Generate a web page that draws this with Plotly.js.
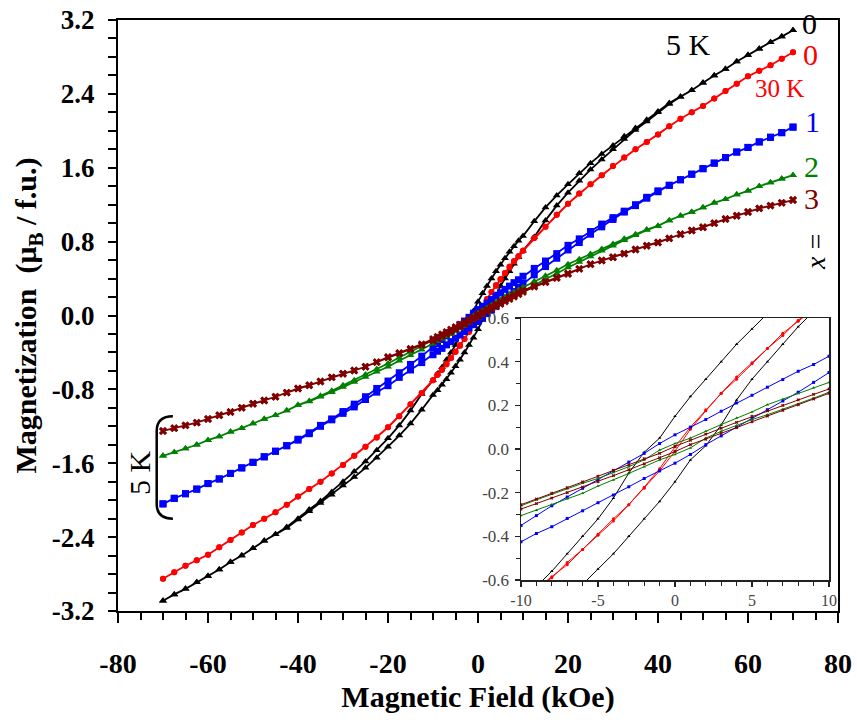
<!DOCTYPE html>
<html>
<head>
<meta charset="utf-8">
<script src="https://cdn.plot.ly/plotly-3.0.1.min.js"></script>
<style>html,body{margin:0;padding:0;background:#fff;}#chart{width:857px;height:722px;}</style>
</head>
<body>
<div id="chart"></div>
<script>
// Magnetic field grid (kOe): descending branch 70 -> -70
const H_DESC = [70,67.5,65,62.5,60,57.5,55,52.5,50,47.5,45,42.5,40,37.5,35,32.5,30,27.5,25,22.5,20,17.5,15,12.5,
  10,9,8,7,6,5,4,3,2,1,0,-1,-2,-3,-4,-5,-6,-7,-8,-9,-10,
  -12.5,-15,-17.5,-20,-22.5,-25,-27.5,-30,-32.5,-35,-37.5,-40,-42.5,-45,-47.5,-50,-52.5,-55,-57.5,-60,-62.5,-65,-67.5,-70];
// ascending branch -70 -> 70
const H_ASC = [-70,-67.5,-65,-62.5,-60,-57.5,-55,-52.5,-50,-47.5,-45,-42.5,-40,-37.5,-35,-32.5,-30,-27.5,-25,-22.5,-20,-17.5,-15,-12.5,
  -10,-9,-8,-7,-6,-5,-4,-3,-2,-1,0,1,2,3,4,5,6,7,8,9,10,
  12.5,15,17.5,20,22.5,25,27.5,30,32.5,35,37.5,40,42.5,45,47.5,50,52.5,55,57.5,60,62.5,65,67.5,70];

// x = 0, 5 K
const M0_5K_DESC = [3.09,3.02,2.96,2.89,2.82,2.75,2.67,2.60,2.52,2.44,2.37,2.30,2.21,2.12,2.03,1.94,1.84,1.75,1.65,1.54,1.42,1.30,1.17,1.02,
  0.86,0.81,0.75,0.69,0.62,0.55,0.48,0.40,0.32,0.24,0.15,0.05,-0.015,-0.11,-0.225,-0.32,-0.40,-0.48,-0.56,-0.63,-0.70,
  -0.85,-1.03,-1.19,-1.33,-1.46,-1.58,-1.69,-1.80,-1.91,-2.01,-2.10,-2.20,-2.29,-2.37,-2.44,-2.52,-2.60,-2.67,-2.75,-2.82,-2.89,-2.96,-3.02,-3.09];
const M0_5K_ASC = [-3.09,-3.02,-2.96,-2.89,-2.82,-2.75,-2.67,-2.60,-2.52,-2.44,-2.37,-2.30,-2.21,-2.12,-2.03,-1.94,-1.84,-1.75,-1.65,-1.54,-1.42,-1.30,-1.17,-1.02,
  -0.86,-0.81,-0.75,-0.69,-0.62,-0.55,-0.48,-0.40,-0.32,-0.24,-0.15,-0.05,0.015,0.11,0.225,0.32,0.40,0.48,0.56,0.63,0.70,
  0.85,1.03,1.19,1.33,1.46,1.58,1.69,1.80,1.91,2.01,2.10,2.20,2.29,2.37,2.44,2.52,2.60,2.67,2.75,2.82,2.89,2.96,3.02,3.09];

// x = 0, 30 K
const M0_30K_DESC = [2.85,2.78,2.71,2.65,2.59,2.51,2.43,2.35,2.27,2.20,2.13,2.05,1.96,1.88,1.80,1.71,1.62,1.52,1.42,1.32,1.21,1.09,0.96,0.84,
  0.70,0.64,0.585,0.53,0.46,0.395,0.33,0.255,0.18,0.10,0.01,-0.09,-0.175,-0.255,-0.32,-0.39,-0.46,-0.52,-0.59,-0.645,-0.70,
  -0.84,-0.96,-1.09,-1.21,-1.32,-1.42,-1.52,-1.62,-1.71,-1.80,-1.88,-1.96,-2.05,-2.13,-2.20,-2.27,-2.35,-2.43,-2.51,-2.59,-2.65,-2.71,-2.78,-2.85];
const M0_30K_ASC = [-2.85,-2.78,-2.71,-2.65,-2.59,-2.51,-2.43,-2.35,-2.27,-2.20,-2.13,-2.05,-1.96,-1.88,-1.80,-1.71,-1.62,-1.52,-1.42,-1.32,-1.21,-1.09,-0.96,-0.84,
  -0.70,-0.64,-0.585,-0.53,-0.46,-0.395,-0.33,-0.255,-0.18,-0.10,-0.01,0.09,0.175,0.255,0.32,0.39,0.46,0.52,0.59,0.645,0.70,
  0.84,0.96,1.09,1.21,1.32,1.42,1.52,1.62,1.71,1.80,1.88,1.96,2.05,2.13,2.20,2.27,2.35,2.43,2.51,2.59,2.65,2.71,2.78,2.85];

// x = 1, 5 K
const M1_DESC = [2.04,1.98,1.93,1.88,1.82,1.77,1.71,1.65,1.59,1.53,1.47,1.41,1.35,1.28,1.20,1.13,1.06,0.99,0.91,0.83,0.76,0.67,0.59,0.51,
  0.425,0.387,0.356,0.318,0.283,0.246,0.211,0.173,0.135,0.10,0.065,0.025,-0.02,-0.06,-0.10,-0.14,-0.18,-0.22,-0.26,-0.305,-0.35,
  -0.44,-0.53,-0.62,-0.71,-0.79,-0.88,-0.96,-1.04,-1.12,-1.19,-1.27,-1.34,-1.41,-1.47,-1.53,-1.59,-1.65,-1.71,-1.77,-1.82,-1.88,-1.93,-1.98,-2.04];
const M1_ASC = [-2.04,-1.98,-1.93,-1.88,-1.82,-1.77,-1.71,-1.65,-1.59,-1.53,-1.47,-1.41,-1.35,-1.28,-1.20,-1.13,-1.06,-0.99,-0.91,-0.83,-0.76,-0.67,-0.59,-0.51,
  -0.425,-0.387,-0.356,-0.318,-0.283,-0.246,-0.211,-0.173,-0.135,-0.10,-0.065,-0.025,0.02,0.06,0.10,0.14,0.18,0.22,0.26,0.305,0.35,
  0.44,0.53,0.62,0.71,0.79,0.88,0.96,1.04,1.12,1.19,1.27,1.34,1.41,1.47,1.53,1.59,1.65,1.71,1.77,1.82,1.88,1.93,1.98,2.04];

// x = 2, 5 K
const M2_DESC = [1.52,1.48,1.44,1.40,1.35,1.31,1.26,1.22,1.17,1.12,1.08,1.03,0.97,0.93,0.88,0.83,0.775,0.72,0.665,0.61,0.555,0.49,0.43,0.37,
  0.305,0.28,0.254,0.228,0.203,0.17,0.142,0.112,0.081,0.05,0.025,-0.005,-0.05,-0.081,-0.108,-0.135,-0.157,-0.182,-0.206,-0.233,-0.26,
  -0.33,-0.39,-0.455,-0.52,-0.58,-0.64,-0.70,-0.755,-0.815,-0.87,-0.925,-0.97,-1.03,-1.08,-1.12,-1.17,-1.22,-1.26,-1.31,-1.35,-1.40,-1.44,-1.48,-1.52];
const M2_ASC = [-1.52,-1.48,-1.44,-1.40,-1.35,-1.31,-1.26,-1.22,-1.17,-1.12,-1.08,-1.03,-0.97,-0.93,-0.88,-0.83,-0.775,-0.72,-0.665,-0.61,-0.555,-0.49,-0.43,-0.37,
  -0.305,-0.28,-0.254,-0.228,-0.203,-0.17,-0.142,-0.112,-0.081,-0.05,-0.025,0.005,0.05,0.081,0.108,0.135,0.157,0.182,0.206,0.233,0.26,
  0.33,0.39,0.455,0.52,0.58,0.64,0.70,0.755,0.815,0.87,0.925,0.97,1.03,1.08,1.12,1.17,1.22,1.26,1.31,1.35,1.40,1.44,1.48,1.52];

// x = 3, 5 K
const M3_DESC = [1.25,1.22,1.19,1.16,1.12,1.08,1.045,1.00,0.955,0.92,0.88,0.835,0.79,0.755,0.715,0.67,0.63,0.595,0.555,0.505,0.455,0.41,0.365,0.32,
  0.275,0.25,0.225,0.2,0.175,0.15,0.122,0.095,0.068,0.04,0.012,-0.02,-0.045,-0.072,-0.098,-0.125,-0.151,-0.177,-0.203,-0.229,-0.255,
  -0.31,-0.36,-0.405,-0.45,-0.505,-0.555,-0.595,-0.63,-0.67,-0.715,-0.755,-0.79,-0.835,-0.88,-0.92,-0.955,-1.00,-1.045,-1.08,-1.12,-1.16,-1.19,-1.22,-1.25];
const M3_ASC = [-1.25,-1.22,-1.19,-1.16,-1.12,-1.08,-1.045,-1.00,-0.955,-0.92,-0.88,-0.835,-0.79,-0.755,-0.715,-0.67,-0.63,-0.595,-0.555,-0.505,-0.455,-0.41,-0.365,-0.32,
  -0.275,-0.25,-0.225,-0.2,-0.175,-0.15,-0.122,-0.095,-0.068,-0.04,-0.012,0.02,0.045,0.072,0.098,0.125,0.151,0.177,0.203,0.229,0.255,
  0.31,0.36,0.405,0.45,0.505,0.555,0.595,0.63,0.67,0.715,0.755,0.79,0.835,0.88,0.92,0.955,1.00,1.045,1.08,1.12,1.16,1.19,1.22,1.25];

const SERIES_NAMES = ['x = 0 (5 K)', 'x = 0 (30 K)', 'x = 1 (5 K)', 'x = 2 (5 K)', 'x = 3 (5 K)'];
const SERIES_DESC = [M0_5K_DESC, M0_30K_DESC, M1_DESC, M2_DESC, M3_DESC];
const SERIES_ASC = [M0_5K_ASC, M0_30K_ASC, M1_ASC, M2_ASC, M3_ASC];
const COLORS = ['#000000', '#ff0000', '#0000ff', '#008000', '#800000'];
const SYMBOLS = ['triangle-up', 'circle', 'square', 'triangle-up', 'x'];
const MSIZE = [7, 6, 7, 7, 7];

const X_TICKS = [-80,-60,-40,-20,0,20,40,60,80];
const X_TICKTEXT = ['-80','-60','-40','-20','0','20','40','60','80'];
const Y_TICKS = [-3.2,-2.4,-1.6,-0.8,0,0.8,1.6,2.4,3.2];
const Y_TICKTEXT = ['-3.2','-2.4','-1.6','-0.8','0.0','0.8','1.6','2.4','3.2'];
const IX_TICKS = [-10,-5,0,5,10];
const IX_TICKTEXT = ['-10','-5','0','5','10'];
const IY_TICKS = [-0.6,-0.4,-0.2,0,0.2,0.4,0.6];
const IY_TICKTEXT = ['-0.6','-0.4','-0.2','0.0','0.2','0.4','0.6'];

const FONT = '"Liberation Serif", "Times New Roman", serif';
const traces = [];
for (let i = 0; i < SERIES_NAMES.length; i++) {
  const xs = H_DESC.concat(H_ASC);
  const ys = SERIES_DESC[i].concat(SERIES_ASC[i]);
  traces.push({
    x: xs, y: ys, type: 'scatter', mode: 'lines+markers', name: SERIES_NAMES[i],
    xaxis: 'x', yaxis: 'y', showlegend: false,
    line: {color: COLORS[i], width: 1.8},
    marker: {color: COLORS[i], symbol: SYMBOLS[i], size: MSIZE[i]}
  });
}
for (let i = 0; i < SERIES_NAMES.length; i++) {
  const xs = H_DESC.concat(H_ASC);
  const ys = SERIES_DESC[i].concat(SERIES_ASC[i]);
  traces.push({
    x: xs, y: ys, type: 'scatter', mode: 'lines+markers', name: SERIES_NAMES[i] + ' inset',
    xaxis: 'x2', yaxis: 'y2', showlegend: false,
    line: {color: COLORS[i], width: 1},
    marker: {color: COLORS[i], symbol: SYMBOLS[i], size: 3}
  });
}

// pixel helpers for annotation placement (plot area 118..838 x 20..611)
const px = v => (v - 118) / 720;
const py = v => (611 - v) / 591;

const ann = (text, x, y, color, size, angle) => ({
  text: text, x: px(x), y: py(y), xref: 'paper', yref: 'paper',
  xanchor: 'center', yanchor: 'middle', showarrow: false, textangle: angle || 0,
  font: {family: FONT, size: size, color: color}
});

const layout = {
  width: 857, height: 722,
  margin: {l: 118, r: 19, t: 20, b: 111},
  paper_bgcolor: '#ffffff', plot_bgcolor: '#ffffff',
  font: {family: FONT, color: '#000'},
  showlegend: false,
  xaxis: {
    domain: [0, 1], range: [-80, 80], anchor: 'y',
    tickmode: 'array', tickvals: X_TICKS, ticktext: X_TICKTEXT,
    ticks: 'outside', ticklen: 10, tickwidth: 2, tickcolor: '#000',
    minor: {tickmode: 'linear', tick0: 0, dtick: 5, ticks: 'outside', ticklen: 7, tickwidth: 2, tickcolor: '#000', showgrid: false},
    showline: true, linewidth: 2, linecolor: '#000', mirror: true,
    showgrid: false, zeroline: false,
    ticklabelstandoff: 16,
    tickfont: {family: FONT, size: 28, color: '#000', weight: 'bold'},
    title: {text: '<b>Magnetic Field (kOe)</b>', standoff: 8, font: {family: FONT, size: 30, color: '#000'}}
  },
  yaxis: {
    domain: [0, 1], range: [-3.2, 3.2], anchor: 'x',
    tickmode: 'array', tickvals: Y_TICKS, ticktext: Y_TICKTEXT,
    ticks: 'outside', ticklen: 8, tickwidth: 2, tickcolor: '#000',
    minor: {tickmode: 'linear', tick0: 0, dtick: 0.2, ticks: 'outside', ticklen: 8, tickwidth: 2, tickcolor: '#000', showgrid: false},
    showline: true, linewidth: 2, linecolor: '#000', mirror: true,
    showgrid: false, zeroline: false,
    ticklabelstandoff: 8,
    tickfont: {family: FONT, size: 27, color: '#000', weight: 'bold'},
    title: {text: '<b>Magnetization  (μ<sub>B</sub> / f.u.)</b>', standoff: 6, font: {family: FONT, size: 30, color: '#000'}}
  },
  xaxis2: {
    domain: [px(521), px(829)], range: [-10, 10], anchor: 'y2',
    tickmode: 'array', tickvals: IX_TICKS, ticktext: IX_TICKTEXT,
    ticks: 'outside', ticklen: 5, tickwidth: 1.2, tickcolor: '#222',
    minor: {tickmode: 'linear', tick0: 0, dtick: 1, ticks: 'outside', ticklen: 4, tickwidth: 1.2, tickcolor: '#222', showgrid: false},
    showline: true, linewidth: 1.5, linecolor: '#222', mirror: true,
    showgrid: false, zeroline: false,
    tickfont: {family: FONT, size: 16, color: '#444'}
  },
  yaxis2: {
    domain: [py(580), py(318)], range: [-0.6, 0.6], anchor: 'x2',
    tickmode: 'array', tickvals: IY_TICKS, ticktext: IY_TICKTEXT,
    ticks: 'outside', ticklen: 5, tickwidth: 1.2, tickcolor: '#222',
    minor: {tickmode: 'linear', tick0: 0, dtick: 0.1, ticks: 'outside', ticklen: 4, tickwidth: 1.2, tickcolor: '#222', showgrid: false},
    showline: true, linewidth: 1.5, linecolor: '#222', mirror: true,
    showgrid: false, zeroline: false,
    ticklabelstandoff: 2,
    tickfont: {family: FONT, size: 17, color: '#444'}
  },
  annotations: [
    ann('5 K', 688, 44, '#000', 30),
    ann('0', 809, 24, '#000', 30),
    ann('0', 810, 55, '#ff0000', 30),
    ann('30 K', 779, 88, '#ff0000', 25),
    ann('1', 812, 121, '#0000ff', 30),
    ann('2', 811, 167, '#008000', 30),
    ann('3', 811, 199, '#800000', 30),
    ann('<i>x</i> =', 815, 252, '#000', 28, -90),
    ann('5 K', 139, 473, '#000', 30, -90)
  ],
  shapes: [{
    type: 'path', xref: 'x', yref: 'y',
    path: 'M -67.8,-1.09 Q -71.4,-1.09 -71.4,-1.25 L -71.4,-2.04 Q -71.4,-2.2 -67.8,-2.2',
    line: {color: '#000', width: 2.5}
  }]
};

Plotly.newPlot('chart', traces, layout, {staticPlot: true, displayModeBar: false});
</script>
</body>
</html>
